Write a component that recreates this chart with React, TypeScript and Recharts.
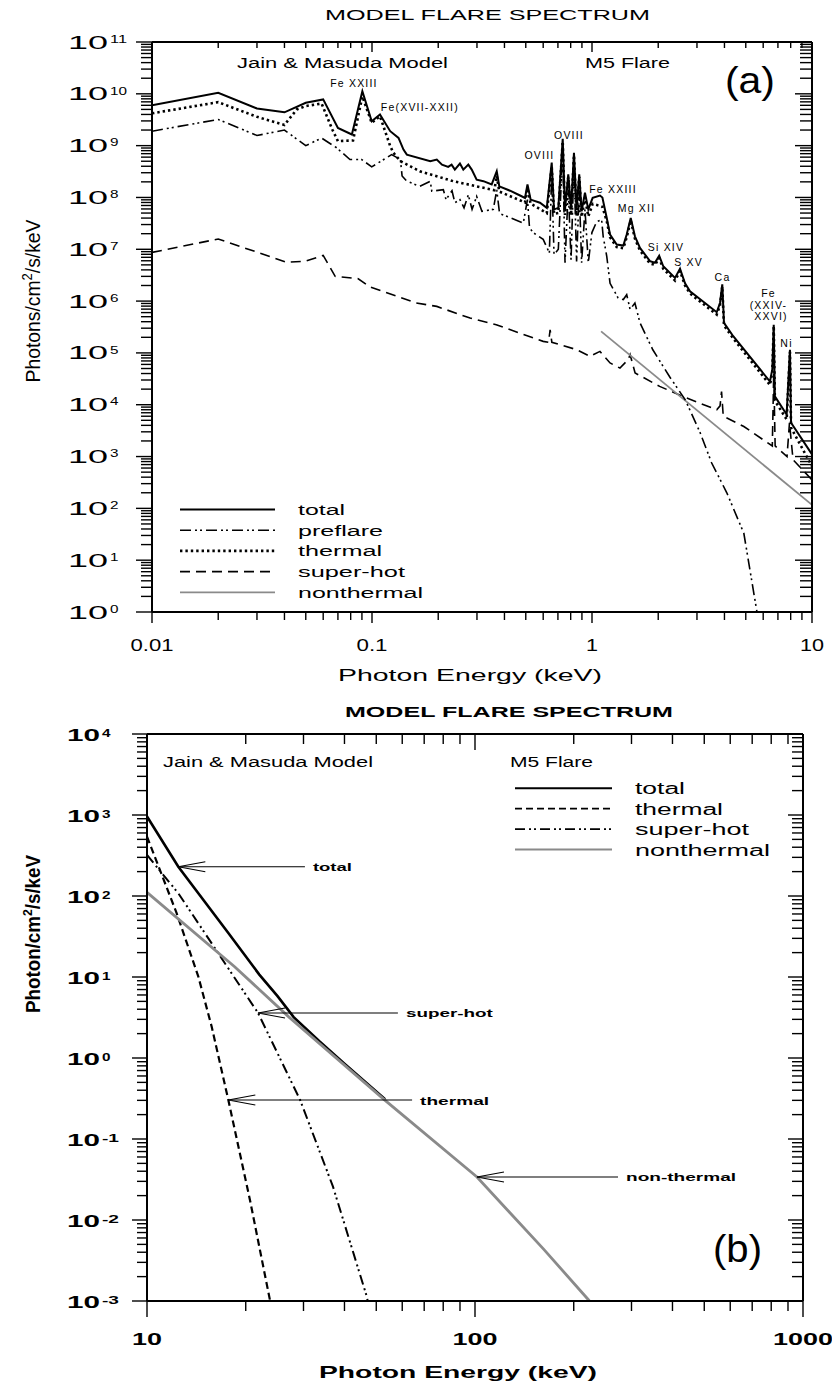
import React from 'react';
import { LineChart, Line, XAxis, YAxis, ReferenceDot, ReferenceLine } from 'recharts';

const FONT = '"Liberation Sans", Arial, Helvetica, sans-serif';

type Pt = [number, number];

// ---- (a) soft X-ray model spectrum: [energy keV, photons/cm^2/s/keV] ----
const totalA: Pt[] = [
  [0.01, 6.0e9], [0.02, 1.05e10], [0.03, 5.2e9], [0.04, 4.4e9], [0.05, 6.7e9], [0.06, 7.8e9],
  [0.07, 2.2e9], [0.081, 1.64e9], [0.0904, 1.12e10], [0.0997, 2.96e9], [0.1087, 4.0e9],
  [0.121, 1.9e9], [0.132, 1.41e9], [0.139, 8.4e8], [0.144, 6.7e8], [0.184, 5.0e8],
  [0.197, 5.4e8], [0.208, 4.3e8], [0.222, 3.9e8], [0.23, 4.3e8], [0.238, 3.45e8],
  [0.251, 4.5e8], [0.26, 3.45e8], [0.274, 4.3e8], [0.284, 3.45e8], [0.299, 2.2e8],
  [0.321, 2.06e8], [0.35, 1.78e8], [0.369, 3.2e8], [0.379, 1.64e8], [0.424, 1.35e8],
  [0.471, 1.09e8], [0.496, 9.8e7], [0.509, 1.78e8], [0.526, 9.1e7], [0.58, 7.9e7],
  [0.623, 6.3e7], [0.656, 4.7e8], [0.672, 5.9e7], [0.703, 6.3e7], [0.736, 1.35e9],
  [0.754, 5.9e7], [0.78, 2.8e8], [0.803, 5.9e7], [0.828, 7.3e8], [0.851, 5.9e7],
  [0.875, 2.8e8], [0.897, 5.4e7], [0.929, 1.23e8], [0.962, 5.9e7], [1.007, 9.8e7],
  [1.087, 1.09e8], [1.115, 1.0e8], [1.167, 4.0e7], [1.208, 1.92e7], [1.295, 1.23e7],
  [1.388, 1.18e7], [1.438, 1.92e7], [1.5, 4.0e7], [1.567, 1.78e7], [1.652, 1.06e7],
  [1.835, 5.9e6], [1.932, 5.5e6], [2.02, 7.5e6], [2.108, 4.7e6], [2.384, 2.8e6],
  [2.512, 4.2e6], [2.648, 2.2e6], [2.789, 1.55e6], [3.689, 6.1e5], [3.818, 9.2e5],
  [3.91, 2.1e6], [3.98, 3.8e5], [4.385, 2.1e5], [6.44, 2.8e4], [6.6, 4.8e4], [6.7, 3.5e5],
  [6.78, 1.45e4], [7.67, 6.5e3], [7.94, 1.15e5], [8.03, 4.5e3], [10, 1.1e3],
];

const thermalA: Pt[] = [
  [0.01, 4.2e9], [0.02, 6.9e9], [0.03, 3.6e9], [0.04, 2.5e9], [0.0455, 5.0e9], [0.05, 5.8e9],
  [0.059, 6.5e9], [0.066, 2.05e9], [0.07, 1.22e9], [0.082, 1.26e9], [0.0904, 8.9e9],
  [0.0997, 2.75e9], [0.1087, 3.7e9], [0.121, 9.8e8], [0.125, 7.3e8], [0.135, 5.0e8],
  [0.165, 3.2e8], [0.234, 2.06e8], [0.36, 1.38e8], [0.369, 2.6e8], [0.379, 1.3e8],
  [0.496, 8.0e7], [0.509, 1.5e8], [0.526, 7.6e7], [0.623, 5.0e7], [0.656, 4.0e8],
  [0.672, 4.8e7], [0.703, 5.0e7], [0.736, 1.2e9], [0.754, 4.6e7], [0.78, 2.5e8],
  [0.803, 4.5e7], [0.828, 6.5e8], [0.851, 4.4e7], [0.875, 2.5e8], [0.897, 4.2e7],
  [0.929, 1.0e8], [0.962, 4.3e7], [1.007, 7.5e7], [1.087, 6.9e7], [1.115, 6.6e7],
  [1.167, 3.5e7], [1.208, 1.7e7], [1.295, 1.1e7], [1.388, 1.05e7], [1.438, 1.7e7],
  [1.5, 3.6e7], [1.567, 1.6e7], [1.652, 9.5e6], [1.835, 5.3e6], [1.932, 5.0e6],
  [2.02, 6.8e6], [2.108, 4.2e6], [2.384, 2.5e6], [2.512, 3.8e6], [2.648, 2.0e6],
  [2.789, 1.4e6], [3.689, 5.5e5], [3.818, 8.3e5], [3.91, 1.9e6], [3.98, 3.4e5],
  [4.385, 1.9e5], [6.44, 2.4e4], [6.6, 4.2e4], [6.7, 3.3e5], [6.78, 1.2e4], [7.67, 5.2e3],
  [7.94, 1.05e5], [8.03, 3.6e3], [10, 6.5e2],
];

const preflareA: Pt[] = [
  [0.01, 1.9e9], [0.02, 3.2e9], [0.03, 1.57e9], [0.04, 2.0e9], [0.05, 1.0e9], [0.059, 1.4e9],
  [0.069, 9.1e8], [0.0794, 5.4e8], [0.0897, 5.4e8], [0.0997, 3.9e8], [0.1228, 6.7e8],
  [0.1346, 5.4e8], [0.137, 2.6e8], [0.144, 2.06e8], [0.165, 1.64e8], [0.184, 2.06e8],
  [0.187, 1.32e8], [0.211, 1.41e8], [0.217, 9.1e7], [0.231, 1.35e8], [0.238, 7.9e7],
  [0.251, 9.1e7], [0.262, 6.3e7], [0.274, 1.12e8], [0.285, 5.9e7], [0.299, 1.05e8],
  [0.316, 5.4e7], [0.356, 5.9e7], [0.369, 1.4e8], [0.38, 4.9e7], [0.424, 4.1e7],
  [0.487, 3.2e7], [0.509, 9.1e7], [0.52, 2.6e7], [0.54, 2.1e7], [0.6, 1.55e7],
  [0.64, 8.5e6], [0.656, 2.8e8], [0.672, 7.9e6], [0.703, 1.0e7], [0.736, 8.5e8],
  [0.754, 5.5e6], [0.78, 1.4e8], [0.803, 6.3e6], [0.828, 4.3e8], [0.851, 5.8e6],
  [0.875, 1.4e8], [0.897, 5.5e6], [0.929, 5.9e7], [0.962, 5.5e6], [0.999, 2.1e7],
  [1.05, 3.4e7], [1.106, 3.7e7], [1.124, 1.78e7], [1.167, 7.3e6], [1.208, 2.2e6],
  [1.314, 1.15e6], [1.388, 1.07e6], [1.438, 1.33e6], [1.49, 6.9e5], [1.567, 9.2e5],
  [1.652, 3.8e5], [1.89, 1.15e5], [2.25, 3.5e4], [2.65, 1.26e4], [3.1, 2.9e3],
  [3.5, 7.5e2], [4.1, 2.0e2], [4.9, 33], [5.6, 1.1], [5.8, 0.5],
];

const superHotA: Pt[] = [
  [0.01, 8.7e6], [0.02, 1.58e7], [0.041, 5.6e6], [0.05, 5.9e6], [0.06, 7.6e6], [0.068, 3.0e6],
  [0.0866, 2.7e6], [0.0978, 1.88e6], [0.159, 9.2e5], [0.197, 7.9e5], [0.279, 4.7e5],
  [0.367, 3.5e5], [0.471, 2.4e5], [0.6, 1.67e5], [0.635, 1.6e5], [0.645, 2.8e5],
  [0.657, 1.6e5], [0.85, 1.16e5], [0.98, 8.6e4], [1.087, 1.07e5], [1.208, 6.4e4],
  [1.34, 5.1e4], [1.46, 7.4e4], [1.49, 9.3e4], [1.57, 4.1e4], [2.03, 2.26e4],
  [2.69, 1.35e4], [3.69, 8.0e3], [3.82, 9.5e3], [3.88, 1.8e4], [3.95, 6.0e3], [4.9, 3.8e3],
  [6.6, 1.6e3], [6.7, 4.1e4], [6.8, 1.6e3], [7.7, 1.0e3], [7.9, 4.5e3], [8.2, 870], [10, 355],
];

const nonThermalA: Pt[] = [[1.1, 2.6e5], [10, 117]];

// line identifications placed in (energy, flux) space
const lineIdsA = [
  { text: 'Fe XXIII', e: 0.0828, f: 1.38e10 },
  { text: 'Fe(XVII-XXII)', e: 0.165, f: 4.76e9 },
  { text: 'OVIII', e: 0.577, f: 5.64e8 },
  { text: 'OVIII', e: 0.786, f: 1.37e9 },
  { text: 'Fe XXIII', e: 1.246, f: 1.24e8 },
  { text: 'Mg XII', e: 1.593, f: 5.35e7 },
  { text: 'Si XIV', e: 2.17, f: 9.4e6 },
  { text: 'S XV', e: 2.746, f: 4.84e6 },
  { text: 'Ca', e: 3.92, f: 2.49e6 },
  { text: 'Fe', e: 6.34, f: 1.22e6 },
  { text: '(XXIV-', e: 6.34, f: 7.16e5 },
  { text: 'XXVI)', e: 6.51, f: 4.4e5 },
  { text: 'Ni', e: 7.66, f: 1.32e5 },
];

// ---- (b) hard X-ray model spectrum ----
const totalB: Pt[] = [
  [10, 960], [12.46, 230], [17.7, 35], [22, 10.7], [25, 5.8], [28, 3.2], [33.6, 1.6],
  [40, 0.85], [53.2, 0.31],
];
const thermalB: Pt[] = [
  [10, 540], [12.32, 61], [14.34, 10.1], [15.75, 2.43], [17.7, 0.303], [20.6, 0.0177],
  [23.7, 1.03e-3], [23.9, 9e-4],
];
const superHotB: Pt[] = [
  [10, 321], [12.46, 108], [15.75, 26], [19.88, 6.3], [21.8, 3.6], [29.3, 0.303],
  [36.9, 0.0258], [46.8, 1.13e-3], [47.2, 9.5e-4],
];
const nonThermalB: Pt[] = [
  [10, 111], [18.5, 13.4], [27, 3.24], [53.2, 0.3], [101.4, 0.034], [127.8, 0.0123],
  [161.6, 4.4e-3], [222, 1.03e-3], [230, 8.6e-4],
];

// arrow annotations: tip on the curve, tail energy to the right
const arrowsB = [
  { text: 'total', e: 12.46, f: 230, tail: 30.3 },
  { text: 'super-hot', e: 21.8, f: 3.6, tail: 58.2 },
  { text: 'thermal', e: 17.7, f: 0.303, tail: 64.3 },
  { text: 'non-thermal', e: 101.4, f: 0.034, tail: 273 },
];
const ARROW_TEXT_W: Record<string, number> = { total: 39, 'super-hot': 87, thermal: 69, 'non-thermal': 110 };

// log axis ticks: 1..9 within each decade plus the closing decade
const logTicks = (lo: number, hi: number) => {
  const out: number[] = [];
  for (let k = lo; k < hi; k++) for (let m = 1; m <= 9; m++) out.push(m * Math.pow(10, k));
  out.push(Math.pow(10, hi));
  return out;
};
const xTicksA = logTicks(-2, 1);
const yTicksA = logTicks(0, 11);
const xTicksB = logTicks(1, 3);
const yTicksB = logTicks(-3, 4);

const rows = (pts: Pt[]) => pts.map(([e, f]) => ({ e, f }));
const isDecade = (v: number) => Math.abs(Math.log10(v) - Math.round(Math.log10(v))) < 1e-6;

type Side = 'top' | 'bottom' | 'left' | 'right';
const makeTick = (side: Side, major: number, minor: number,
  label?: (v: number, x: number, y: number) => React.ReactNode) => (p: any) => {
  const { x, y, payload } = p;
  const v = payload.value as number;
  const big = isDecade(v);
  const len = big ? major : minor;
  const horizontal = side === 'top' || side === 'bottom';
  return (
    <g>
      <line x1={x} y1={y} x2={horizontal ? x : x - len} y2={horizontal ? y + len : y}
        stroke="#000" strokeWidth={1.4} />
      {big && label ? label(v, x, y) : null}
    </g>
  );
};

const expOf = (v: number) => Math.round(Math.log10(v));

const yLabelA = (v: number, x: number, y: number) => {
  const ex = String(expOf(v));
  return (
    <g fontFamily={FONT} fill="#000">
      <text x={x - 84} y={y + 6.5} fontSize={18} textLength={40} lengthAdjust="spacingAndGlyphs">10</text>
      <text x={x - 42} y={y + 0.7} fontSize={11} textLength={8.5 * ex.length} lengthAdjust="spacingAndGlyphs">{ex}</text>
    </g>
  );
};
const xLabelA = (v: number, x: number, y: number) => {
  const ex = expOf(v);
  const s = ex < 0 ? v.toFixed(-ex) : String(Math.round(v));
  const digits = s.replace('.', '').length;
  const w = digits * 12 + (s.includes('.') ? 7 : 0);
  return (
    <text x={x} y={y + 39} textAnchor="middle" fontSize={17} fontFamily={FONT} fill="#000"
      textLength={w} lengthAdjust="spacingAndGlyphs">{s}</text>
  );
};
const yLabelB = (v: number, x: number, y: number) => {
  const ex = String(expOf(v));
  return (
    <g fontFamily={FONT} fontWeight="bold" fill="#000">
      <text x={x - 80} y={y + 7} fontSize={17} textLength={33} lengthAdjust="spacingAndGlyphs">10</text>
      <text x={x - 45} y={y + 2.5} fontSize={11} textLength={8.5 * ex.length} lengthAdjust="spacingAndGlyphs">{ex}</text>
    </g>
  );
};
const xLabelB = (v: number, x: number, y: number) => {
  const s = String(Math.round(v));
  return (
    <text x={x} y={y + 44} textAnchor="middle" fontSize={17} fontWeight="bold" fontFamily={FONT}
      fill="#000" textLength={s.length * 15} lengthAdjust="spacingAndGlyphs">{s}</text>
  );
};

const AXIS = { stroke: '#000', strokeWidth: 2 };
const GRAY = '#8a8a8a';

type LineStyle = { stroke: string; width: number; dash?: string };
const styleA: Record<string, LineStyle> = {
  total: { stroke: '#000', width: 2 },
  preflare: { stroke: '#000', width: 1.6, dash: '11 4 2 3 2 4' },
  thermal: { stroke: '#000', width: 2.6, dash: '2.4 3' },
  superHot: { stroke: '#000', width: 1.6, dash: '10 6' },
  nonThermal: { stroke: GRAY, width: 1.8 },
};
const styleB: Record<string, LineStyle> = {
  total: { stroke: '#000', width: 2.6 },
  thermal: { stroke: '#000', width: 2.2, dash: '7 4' },
  superHot: { stroke: '#000', width: 2, dash: '10 4 2 3 2 4' },
  nonThermal: { stroke: GRAY, width: 2.8 },
};

const seriesA: { name: string; data: Pt[]; s: LineStyle }[] = [
  { name: 'superHot', data: superHotA, s: styleA.superHot },
  { name: 'nonThermal', data: nonThermalA, s: styleA.nonThermal },
  { name: 'preflare', data: preflareA, s: styleA.preflare },
  { name: 'thermal', data: thermalA, s: styleA.thermal },
  { name: 'total', data: totalA, s: styleA.total },
];
const seriesB: { name: string; data: Pt[]; s: LineStyle }[] = [
  { name: 'thermal', data: thermalB, s: styleB.thermal },
  { name: 'superHot', data: superHotB, s: styleB.superHot },
  { name: 'total', data: totalB, s: styleB.total },
  { name: 'nonThermal', data: nonThermalB, s: styleB.nonThermal },
];

const legendA = [
  { label: 'total', s: styleA.total, w: 47 },
  { label: 'preflare', s: styleA.preflare, w: 85 },
  { label: 'thermal', s: styleA.thermal, w: 84 },
  { label: 'super-hot', s: styleA.superHot, w: 107 },
  { label: 'nonthermal', s: styleA.nonThermal, w: 125 },
];
const legendB = [
  { label: 'total', s: styleB.total, w: 50 },
  { label: 'thermal', s: styleB.thermal, w: 88 },
  { label: 'super-hot', s: styleB.superHot, w: 114 },
  { label: 'nonthermal', s: styleB.nonThermal, w: 135 },
];

const T = (p: { x: number; y: number; w: number; size: number; bold?: boolean; anchor?: string; children: React.ReactNode }) => (
  <text x={p.x} y={p.y} fontSize={p.size} fontWeight={p.bold ? 'bold' : 'normal'} fontFamily={FONT}
    fill="#000" textAnchor={p.anchor || 'start'} textLength={p.w} lengthAdjust="spacingAndGlyphs">
    {p.children}
  </text>
);

function renderLines(list: { name: string; data: Pt[]; s: LineStyle }[]) {
  return list.map((sr) => (
    <Line key={sr.name} xAxisId="b" yAxisId="l" data={rows(sr.data)} dataKey="f" type="linear"
      stroke={sr.s.stroke} strokeWidth={sr.s.width} strokeDasharray={sr.s.dash}
      dot={false} activeDot={false} isAnimationActive={false} />
  ));
}

function PanelA() {
  return (
    <div style={{ position: 'absolute', left: 0, top: 0, width: 832, height: 690 }}>
      <LineChart width={832} height={690} margin={{ top: 0, right: 0, bottom: 0, left: 0 }}>
        <XAxis xAxisId="b" dataKey="e" type="number" scale="log" domain={[0.01, 10]} allowDataOverflow
          ticks={xTicksA} interval={0} tickLine={false} tickSize={0} tickMargin={0} height={78}
          axisLine={AXIS} tick={makeTick('bottom', 11, 8, xLabelA)} />
        <XAxis xAxisId="t" orientation="top" dataKey="e" type="number" scale="log" domain={[0.01, 10]}
          allowDataOverflow ticks={xTicksA} interval={0} tickLine={false} tickSize={0} tickMargin={0}
          height={42} axisLine={AXIS} tick={makeTick('top', 10, 6)} />
        <YAxis yAxisId="l" type="number" scale="log" domain={[1, 1e11]} allowDataOverflow ticks={yTicksA}
          interval={0} tickLine={false} tickSize={0} tickMargin={0} width={152} axisLine={AXIS}
          tick={makeTick('left', 16, 11, yLabelA)} />
        <YAxis yAxisId="r" orientation="right" type="number" scale="log" domain={[1, 1e11]} allowDataOverflow
          ticks={yTicksA} interval={0} tickLine={false} tickSize={0} tickMargin={0} width={20}
          axisLine={AXIS} tick={makeTick('right', 17, 12)} />
        {renderLines(seriesA)}
        {lineIdsA.map((l, i) => (
          <ReferenceDot key={'id' + i} xAxisId="b" yAxisId="l" x={l.e} y={l.f} r={1} ifOverflow="visible"
            shape={(p: any) => (
              <text x={p.cx} y={p.cy} textAnchor="middle" fontSize={10.5} letterSpacing={1.2}
                fontFamily={FONT} fill="#000">{l.text}</text>
            )} />
        ))}
      </LineChart>
      <svg width={832} height={690} style={{ position: 'absolute', left: 0, top: 0, pointerEvents: 'none' }}>
        <T x={487.5} y={20} w={325} size={14.5} anchor="middle">MODEL FLARE SPECTRUM</T>
        <T x={237} y={68} w={211} size={14}>Jain &amp; Masuda Model</T>
        <T x={585} y={68} w={85} size={14}>M5 Flare</T>
        <T x={725} y={92.5} w={50} size={37}>(a)</T>
        <T x={338} y={681} w={264} size={17}>Photon Energy (keV)</T>
        <text transform="translate(40,301) rotate(-90)" textAnchor="middle" fontSize={21} fontFamily={FONT}
          fill="#000" textLength={163} lengthAdjust="spacingAndGlyphs">
          Photons/cm<tspan dy={-8} fontSize={14}>2</tspan><tspan dy={8}>/s/keV</tspan>
        </text>
        {legendA.map((r, i) => {
          const y = 509.5 + i * 20.7;
          return (
            <g key={r.label}>
              <line x1={180} x2={275} y1={y} y2={y} stroke={r.s.stroke} strokeWidth={r.s.width}
                strokeDasharray={r.s.dash} />
              <T x={298} y={y + 5.5} w={r.w} size={15.5}>{r.label}</T>
            </g>
          );
        })}
      </svg>
    </div>
  );
}

function PanelB() {
  return (
    <div style={{ position: 'absolute', left: 0, top: 690, width: 832, height: 695 }}>
      <LineChart width={832} height={695} margin={{ top: 0, right: 0, bottom: 0, left: 0 }}>
        <XAxis xAxisId="b" dataKey="e" type="number" scale="log" domain={[10, 1000]} allowDataOverflow
          ticks={xTicksB} interval={0} tickLine={false} tickSize={0} tickMargin={0} height={84}
          axisLine={AXIS} tick={makeTick('bottom', 16, 10, xLabelB)} />
        <XAxis xAxisId="t" orientation="top" dataKey="e" type="number" scale="log" domain={[10, 1000]}
          allowDataOverflow ticks={xTicksB} interval={0} tickLine={false} tickSize={0} tickMargin={0}
          height={44} axisLine={AXIS} tick={makeTick('top', 16, 10)} />
        <YAxis yAxisId="l" type="number" scale="log" domain={[1e-3, 1e4]} allowDataOverflow ticks={yTicksB}
          interval={0} tickLine={false} tickSize={0} tickMargin={0} width={147} axisLine={AXIS}
          tick={makeTick('left', 15, 10, yLabelB)} />
        <YAxis yAxisId="r" orientation="right" type="number" scale="log" domain={[1e-3, 1e4]} allowDataOverflow
          ticks={yTicksB} interval={0} tickLine={false} tickSize={0} tickMargin={0} width={29}
          axisLine={AXIS} tick={makeTick('right', 15, 11)} />
        {renderLines(seriesB)}
        {arrowsB.map((a) => (
          <ReferenceLine key={a.text} xAxisId="b" yAxisId="l" ifOverflow="visible"
            segment={[{ x: a.e, y: a.f }, { x: a.tail, y: a.f }]}
            shape={(p: any) => {
              const tip = Math.min(p.x1, p.x2);
              const tail = Math.max(p.x1, p.x2);
              const y = p.y1;
              return (
                <g>
                  <line x1={tip} y1={y} x2={tail} y2={y} stroke="#000" strokeWidth={1.1} />
                  <polyline points={`${tip + 27},${y - 5} ${tip},${y} ${tip + 27},${y + 5}`}
                    fill="none" stroke="#000" strokeWidth={1.1} />
                  <text x={tail + 8} y={y + 4.5} fontSize={11.5} fontWeight="bold" fontFamily={FONT}
                    fill="#000" textLength={ARROW_TEXT_W[a.text]} lengthAdjust="spacingAndGlyphs">{a.text}</text>
                </g>
              );
            }} />
        ))}
      </LineChart>
      <svg width={832} height={695} style={{ position: 'absolute', left: 0, top: 0, pointerEvents: 'none' }}>
        <T x={509} y={27} w={328} size={14.5} bold anchor="middle">MODEL FLARE SPECTRUM</T>
        <T x={163} y={77} w={210} size={14}>Jain &amp; Masuda Model</T>
        <T x={510} y={77} w={83} size={14}>M5 Flare</T>
        <T x={713} y={572} w={49} size={38}>(b)</T>
        <T x={319} y={688} w={278} size={17} bold>Photon Energy (keV)</T>
        <text transform="translate(40,244) rotate(-90)" textAnchor="middle" fontSize={20} fontWeight="bold"
          fontFamily={FONT} fill="#000" textLength={158} lengthAdjust="spacingAndGlyphs">
          Photon/cm<tspan dy={-8} fontSize={13}>2</tspan><tspan dy={8}>/s/keV</tspan>
        </text>
        {legendB.map((r, i) => {
          const y = 98.3 + i * 20.4;
          return (
            <g key={r.label}>
              <line x1={515} x2={612} y1={y} y2={y} stroke={r.s.stroke} strokeWidth={r.s.width * 0.8}
                strokeDasharray={r.s.dash} />
              <T x={635} y={y + 6} w={r.w} size={16}>{r.label}</T>
            </g>
          );
        })}
      </svg>
    </div>
  );
}

export default function App() {
  return (
    <div style={{ position: 'absolute', left: 0, top: 0, width: 832, height: 1385, background: '#fff' }}>
      <PanelA />
      <PanelB />
    </div>
  );
}
